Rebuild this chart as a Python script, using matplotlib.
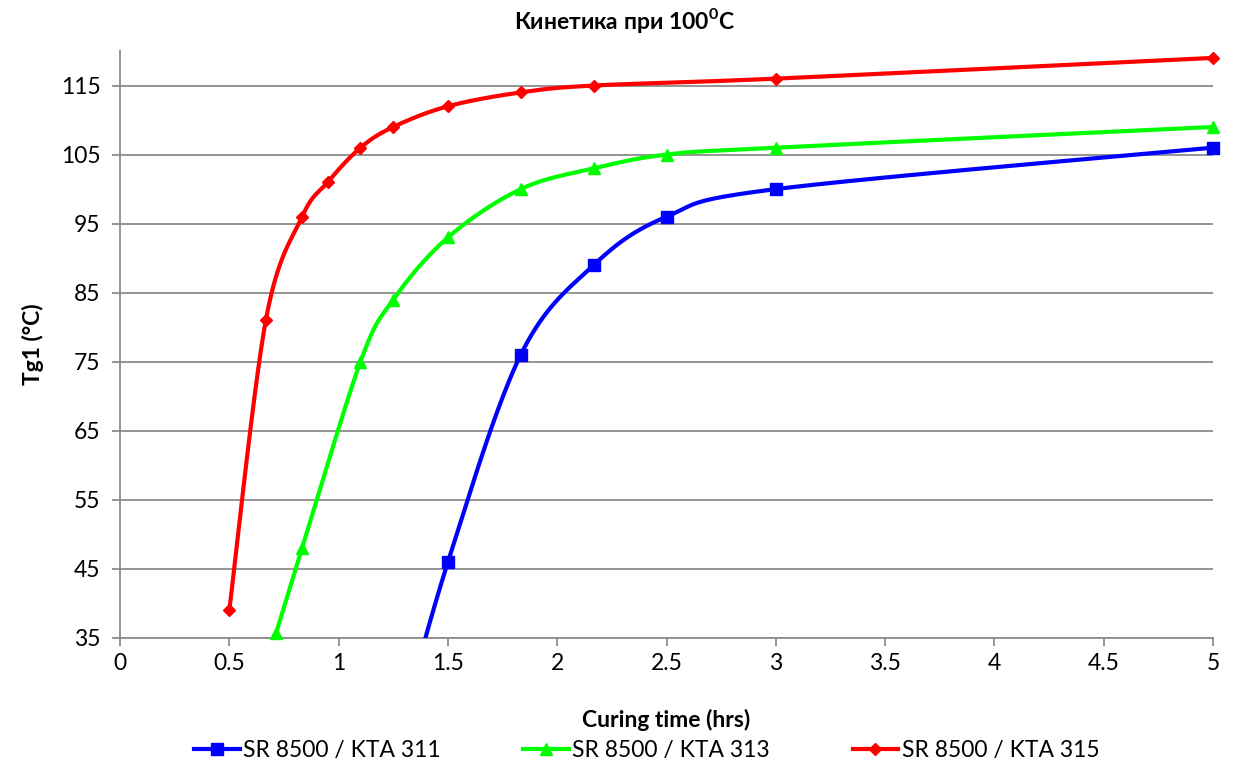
import matplotlib
matplotlib.use("Agg")
import matplotlib.pyplot as plt
import numpy as np

plt.rcParams['font.family'] = ['Lato', 'DejaVu Sans']
plt.rcParams['mathtext.fontset'] = 'custom'
plt.rcParams['mathtext.bf'] = 'Lato:bold'
plt.rcParams['mathtext.rm'] = 'Lato'

# data
t_311 = [1.25, 1.5, 1.833, 2.167, 2.5, 3.0, 5.0]
tg_311 = [18, 46, 76, 89, 96, 100, 106]

t_313 = [0.714, 0.833, 1.1, 1.25, 1.5, 1.833, 2.167, 2.5, 3.0, 5.0]
tg_313 = [35.7, 48, 75, 84, 93, 100, 103, 105, 106, 109]

t_315 = [0.5, 0.667, 0.833, 0.95, 1.1, 1.25, 1.5, 1.833, 2.167, 3.0, 5.0]
tg_315 = [39, 81, 96, 101, 106, 109, 112, 114, 115, 116, 119]

labels = ["SR 8500 / KTA 311", "SR 8500 / KTA 313", "SR 8500 / KTA 315"]
colors = ["#0000ff", "#00ff00", "#ff0000"]
markers = ["s", "^", "D"]
msizes = [9, 8.5, 6.5]

Y_MIN, Y_MAX = 35, 120


def smooth(x, y, n=40):
    # excel-like smoothed line: bezier through points, catmull-rom controls
    x = np.asarray(x, float)
    y = np.asarray(y, float)
    px = np.concatenate([[x[0]], x, [x[-1]]])
    py = np.concatenate([[y[0]], y, [y[-1]]])
    xs, ys = [], []
    s = np.linspace(0, 1, n)
    for i in range(1, len(px) - 2):
        p0 = np.array([px[i], py[i]])
        p3 = np.array([px[i + 1], py[i + 1]])
        p1 = p0 + (p3 - np.array([px[i - 1], py[i - 1]])) / 6
        p2 = p3 - (np.array([px[i + 2], py[i + 2]]) - p0) / 6
        b = ((1 - s) ** 3)[:, None] * p0 + (3 * (1 - s) ** 2 * s)[:, None] * p1 \
            + (3 * (1 - s) * s ** 2)[:, None] * p2 + (s ** 3)[:, None] * p3
        xs.extend(b[:, 0])
        ys.extend(b[:, 1])
    return np.array(xs), np.array(ys)


fig = plt.figure(figsize=(12.34, 7.66), dpi=100)
ax = fig.add_axes([120 / 1234, 1 - 638 / 766, (1213 - 120) / 1234, (638 - 51) / 766])

series = [(t_311, tg_311), (t_313, tg_313), (t_315, tg_315)]
for (t, tg), lab, c, m, ms in zip(series, labels, colors, markers, msizes):
    sx, sy = smooth(t, tg)
    ax.plot(sx, sy, color=c, lw=3, solid_capstyle="butt", zorder=3)
    t = np.asarray(t)
    tg = np.asarray(tg)
    vis = tg >= Y_MIN
    ax.plot(t[vis], tg[vis], ls="none", marker=m, color=c, ms=ms, zorder=4, clip_on=False)
    ax.plot([], [], color=c, lw=3, marker=m, ms=ms, label=lab)

ax.set_xlim(0, 5)
ax.set_ylim(Y_MIN, Y_MAX)
ax.set_xticks(np.arange(0, 5.01, 0.5))
ax.set_xticklabels(["0", "0.5", "1", "1.5", "2", "2.5", "3", "3.5", "4", "4.5", "5"])
ax.set_yticks(np.arange(35, 116, 10))
ax.grid(axis="y", color="#8c8c8c", lw=1.3)
ax.set_axisbelow(True)
for sp in ["top", "right"]:
    ax.spines[sp].set_visible(False)
for sp in ["left", "bottom"]:
    ax.spines[sp].set_color("#8c8c8c")
    ax.spines[sp].set_linewidth(1.3)
ax.tick_params(colors="#8c8c8c", labelcolor="black", labelsize=16.5, length=6, width=1.3)
ax.tick_params(axis="x", pad=5)
ax.tick_params(axis="y", pad=8)

fig.suptitle(r"Кинетика при 100$^{\mathbf{0}}$C", x=0.506, y=0.992, fontsize=16.5,
             fontweight="bold", va="top")
ax.set_xlabel("Curing time (hrs)", fontsize=16.5, fontweight="bold", labelpad=25)
ax.set_ylabel("Tg1 (°C)", fontsize=16.5, fontweight="bold", labelpad=12)

fig.legend(loc="lower center", ncol=3, frameon=False, fontsize=16.5,
           bbox_to_anchor=(0.524, -0.02), columnspacing=3.6, handlelength=2.0,
           handletextpad=0.15)

fig.savefig("out.png", dpi=100)
